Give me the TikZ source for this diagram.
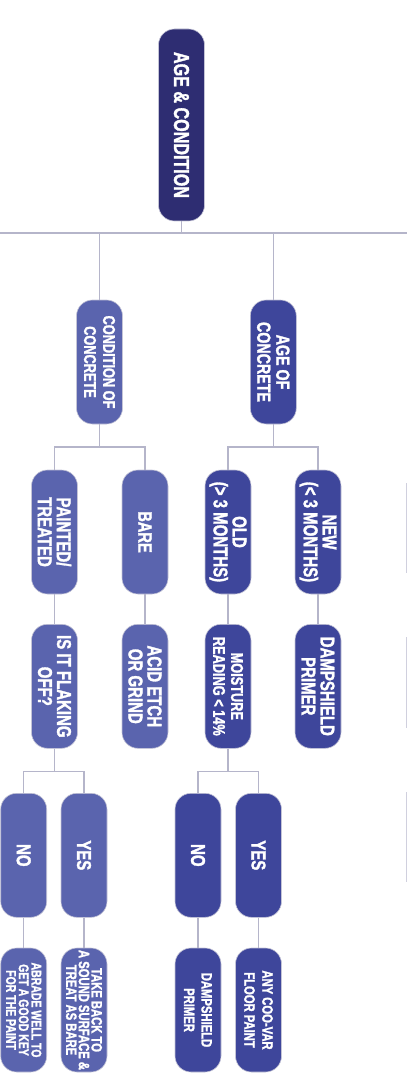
\documentclass[tikz,border=0pt]{standalone}
\usepackage{fontspec}
\newfontfamily\boxfont[FakeStretch=0.75, FakeBold=1.5]{Liberation Sans Bold}
\definecolor{rootblue}{HTML}{2E2D72}
\definecolor{ageblue}{HTML}{3E469B}
\definecolor{condblue}{HTML}{5A64AE}
\definecolor{linkgray}{HTML}{B5B5CA}
\definecolor{rimgray}{HTML}{C4C4D6}
\tikzset{
  box/.style={rounded corners=16pt, rotate=-90, draw=rimgray, line width=0.6pt,
    text=white, align=center, inner sep=1pt,
    minimum width=124pt, minimum height=46pt},
  fs/.style 2 args={font=\boxfont\fontsize{#1}{#2}\selectfont},
  agebox/.style={box, fill=ageblue},
  condbox/.style={box, fill=condblue},
  link/.style={draw=linkgray, line width=1.5pt},
  rim/.style={draw=rimgray!80!white, line width=0.8pt}
}
\begin{document}
\begin{tikzpicture}[x=1pt, y=-1pt]

    % Fix the page to the size of the reference
    \useasboundingbox (0,0) rectangle (407,1075);

    % Top of the tree
    \node[box, fill=rootblue, minimum width=192pt, fs={21.5}{22}] (root) at (181.5,125) {AGE \& CONDITION};

    % Horizontal bus under the top node
    \coordinate (busL) at (0,233);
    \coordinate (busR) at (407,233);

    % Second level
    \node[condbox, fs={17}{19}] (cond) at (99.5,362) {CONDITION OF\\CONCRETE};
    \node[agebox, fs={19}{19}] (age) at (273.3,362) {AGE OF\\CONCRETE};

    % Third level
    \node[condbox, fs={20}{19}] (painted) at (54.5,532) {PAINTED/\\TREATED};
    \node[condbox, fs={19.5}{19}] (bare) at (145,532) {BARE};
    \node[agebox, fs={20}{19}] (old) at (228,532) {OLD\\(> 3 MONTHS)};
    \node[agebox, fs={20}{19}] (new) at (318,532) {NEW\\(< 3 MONTHS)};

    % Fourth level
    \node[condbox, fs={20}{19}] (flaking) at (54.5,686.3) {IS IT FLAKING\\OFF?};
    \node[condbox, fs={20}{19}] (acid) at (145,686.3) {ACID ETCH\\OR GRIND};
    \node[agebox, fs={17}{18}] (moist) at (228,686.3) {MOISTURE\\READING < 14\%};
    \node[agebox, fs={20}{19}] (damp) at (318,686.3) {DAMPSHIELD\\PRIMER};

    % Answers
    \node[condbox, fs={20}{19}] (no1) at (23.7,855.3) {NO};
    \node[condbox, fs={20}{19}] (yes1) at (84,855.3) {YES};
    \node[agebox, fs={20}{19}] (no2) at (198,855.3) {NO};
    \node[agebox, fs={20}{19}] (yes2) at (258.5,855.3) {YES};

    % Final advice
    \node[condbox, fs={14}{12.7}] (abrade) at (23.7,1010) {ABRADE WELL TO\\GET A GOOD KEY\\FOR THE PAINT};
    \node[condbox, fs={15}{12.7}] (take) at (84,1010) {TAKE BACK TO\\A SOUND SURFACE \&\\TREAT AS BARE};
    \node[agebox, fs={15}{17.5}] (damp2) at (198,1010) {DAMPSHIELD\\PRIMER};
    \node[agebox, fs={15}{18}] (any) at (258.5,1010) {ANY COO-VAR\\FLOOR PAINT};

    % Connectors from the top node
    \draw[link] (busL) -- (busR);
    \draw[link] (root.east) -- (root.east |- busL);
    \draw[link] (cond.west) -- (cond.west |- busL);
    \draw[link] (age.west) -- (age.west |- busL);

    % Forks under the second level
    \draw[link] (cond.east) -- ++(0,22.7) coordinate (f1);
    \draw[link] (painted.west) |- (f1) -| (bare.west);
    \draw[link] (age.east) -- ++(0,22.7) coordinate (f2);
    \draw[link] (old.west) |- (f2) -| (new.west);

    % Straight links to the fourth level
    \draw[link] (painted.east) -- (flaking.west);
    \draw[link] (bare.east) -- (acid.west);
    \draw[link] (old.east) -- (moist.west);
    \draw[link] (new.east) -- (damp.west);

    % Forks under the questions
    \draw[link] (flaking.east) -- ++(0,23) coordinate (f3);
    \draw[link] (no1.west) |- (f3) -| (yes1.west);
    \draw[link] (moist.east) -- ++(0,23) coordinate (f4);
    \draw[link] (no2.west) |- (f4) -| (yes2.west);

    % Answers to advice
    \draw[link] (no1.east) -- (abrade.west);
    \draw[link] (yes1.east) -- (take.west);
    \draw[link] (no2.east) -- (damp2.west);
    \draw[link] (yes2.east) -- (any.west);

    % Edges of the boxes cut off at the right
    \draw[rim] (406,483) -- (406,573);
    \draw[rim] (406,637) -- (406,728);
    \draw[rim] (406,792) -- (406,882);

\end{tikzpicture}
\end{document}
